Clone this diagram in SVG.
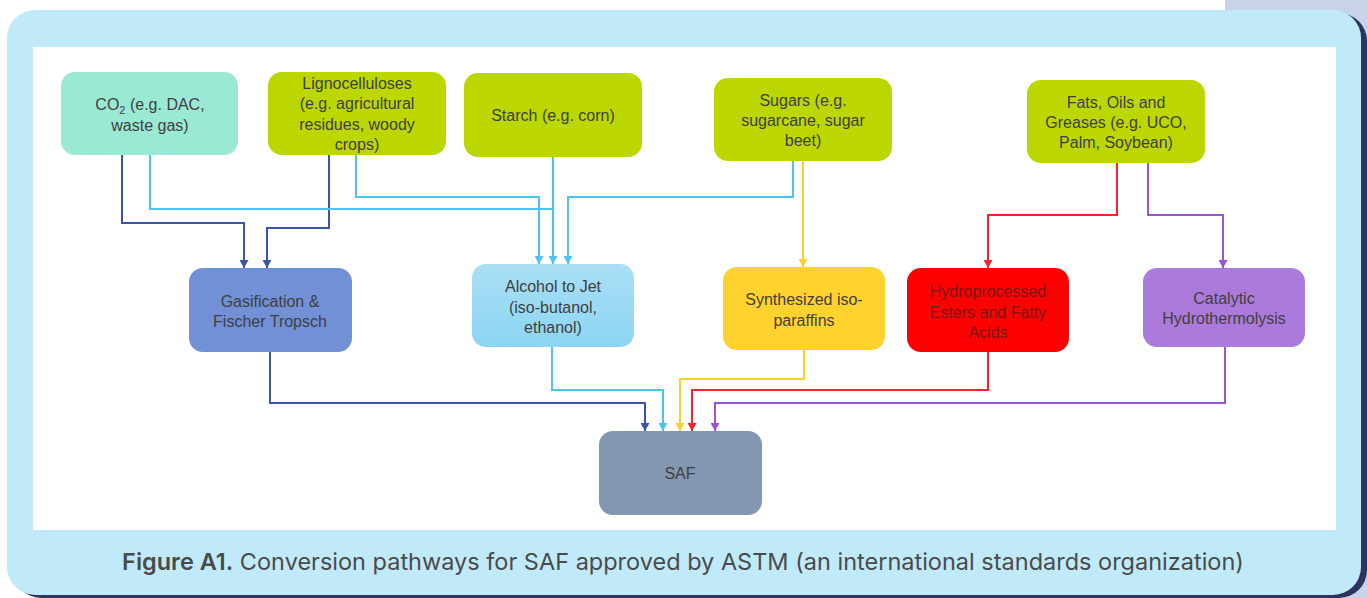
<svg xmlns="http://www.w3.org/2000/svg" width="1367" height="598" viewBox="0 0 1367 598">
<style>
.t{font-family:"Liberation Sans",Arial,sans-serif;font-size:16px;fill:#3f3f3f;text-anchor:middle}
.c{fill:none;stroke-width:2}
.db{stroke:#3a55a5}.lb{stroke:#4fc3ef}.ye{stroke:#fbcf2e}.re{stroke:#f8222a}.pu{stroke:#9a53d8}
.cap{font-family:Inter,"Liberation Sans",Arial,sans-serif;font-size:23.5px;fill:#4a4a4a;text-anchor:middle}
</style>
<defs>
<linearGradient id="gAlc" x1="0" y1="0" x2="0" y2="1"><stop offset="0" stop-color="#aadff5"/><stop offset="1" stop-color="#8cd5f2"/></linearGradient>
<marker id="aDb" markerUnits="userSpaceOnUse" markerWidth="9" markerHeight="9" refX="4.5" refY="8" orient="0" viewBox="0 0 9 9"><path d="M0,0 L9,0 L4.5,8 z" fill="#3a55a5"/></marker>
<marker id="aLb" markerUnits="userSpaceOnUse" markerWidth="9" markerHeight="9" refX="4.5" refY="8" orient="0" viewBox="0 0 9 9"><path d="M0,0 L9,0 L4.5,8 z" fill="#4fc3ef"/></marker>
<marker id="aYe" markerUnits="userSpaceOnUse" markerWidth="9" markerHeight="9" refX="4.5" refY="8" orient="0" viewBox="0 0 9 9"><path d="M0,0 L9,0 L4.5,8 z" fill="#fbcf2e"/></marker>
<marker id="aRe" markerUnits="userSpaceOnUse" markerWidth="9" markerHeight="9" refX="4.5" refY="8" orient="0" viewBox="0 0 9 9"><path d="M0,0 L9,0 L4.5,8 z" fill="#f8222a"/></marker>
<marker id="aPu" markerUnits="userSpaceOnUse" markerWidth="9" markerHeight="9" refX="4.5" refY="8" orient="0" viewBox="0 0 9 9"><path d="M0,0 L9,0 L4.5,8 z" fill="#9a53d8"/></marker>
</defs>
<rect x="0" y="0" width="1367" height="598" fill="#ffffff"/>
<rect x="1225" y="0" width="142" height="598" fill="#c7d3e8"/>
<rect x="13" y="13" width="1354" height="585" rx="28" fill="#2c3561"/>
<rect x="7" y="10" width="1354" height="585" rx="28" fill="#c0eaf9"/>
<rect x="33" y="47" width="1303" height="483" fill="#ffffff"/>

<g id="connectors">
<path class="c db" d="M122,155 V223 H244 V268" marker-end="url(#aDb)"/>
<path class="c db" d="M329,155 V228 H267 V268" marker-end="url(#aDb)"/>
<path class="c db" d="M270,352 V403 H645 V431" marker-end="url(#aDb)"/>
<path class="c lb" d="M150,155 V209 H553"/>
<path class="c lb" d="M356,155 V197 H539 V264" marker-end="url(#aLb)"/>
<path class="c lb" d="M553,157 V264" marker-end="url(#aLb)"/>
<path class="c lb" d="M793,161 V197 H568 V264" marker-end="url(#aLb)"/>
<path class="c lb" d="M552,347 V390 H663 V431" marker-end="url(#aLb)"/>
<path class="c ye" d="M803,161 V267" marker-end="url(#aYe)"/>
<path class="c ye" d="M804,350 V379 H680 V431" marker-end="url(#aYe)"/>
<path class="c re" d="M1117,163 V215 H988 V268" marker-end="url(#aRe)"/>
<path class="c re" d="M988,352 V390 H692 V431" marker-end="url(#aRe)"/>
<path class="c pu" d="M1148,163 V215 H1223 V268" marker-end="url(#aPu)"/>
<path class="c pu" d="M1225,347 V403 H715 V431" marker-end="url(#aPu)"/>
</g>

<g id="co2">
<rect x="61" y="72" width="177" height="83" rx="14" fill="#9ae9d5"/>
<text class="t" x="150" y="110">CO<tspan font-size="11" dy="4">2</tspan><tspan dy="-4"> (e.g. DAC,</tspan></text>
<text class="t" x="150" y="131">waste gas)</text>
</g>
<g id="ligno">
<rect x="268" y="72" width="178" height="83" rx="14" fill="#bcd600"/>
<text class="t" x="357" y="89">Lignocelluloses</text>
<text class="t" x="357" y="109">(e.g. agricultural</text>
<text class="t" x="357" y="130">residues, woody</text>
<text class="t" x="357" y="150">crops)</text>
</g>
<g id="starch">
<rect x="464" y="73" width="178" height="84" rx="14" fill="#bcd600"/>
<text class="t" x="553" y="121">Starch (e.g. corn)</text>
</g>
<g id="sugars">
<rect x="714" y="78" width="178" height="83" rx="14" fill="#bcd600"/>
<text class="t" x="803" y="106">Sugars (e.g.</text>
<text class="t" x="803" y="126">sugarcane, sugar</text>
<text class="t" x="803" y="146">beet)</text>
</g>
<g id="fats">
<rect x="1027" y="80" width="178" height="83" rx="14" fill="#bcd600"/>
<text class="t" x="1116" y="108">Fats, Oils and</text>
<text class="t" x="1116" y="128">Greases (e.g. UCO,</text>
<text class="t" x="1116" y="148">Palm, Soybean)</text>
</g>
<g id="gasification">
<rect x="189" y="268" width="163" height="84" rx="14" fill="#7190d6"/>
<text class="t" x="270" y="307">Gasification &amp;</text>
<text class="t" x="270" y="327">Fischer Tropsch</text>
</g>
<g id="alcohol">
<rect x="472" y="264" width="162" height="83" rx="14" fill="url(#gAlc)"/>
<text class="t" x="553" y="292">Alcohol to Jet</text>
<text class="t" x="553" y="313">(iso-butanol,</text>
<text class="t" x="553" y="333">ethanol)</text>
</g>
<g id="synthesized">
<rect x="723" y="267" width="162" height="83" rx="14" fill="#ffd22e"/>
<text class="t" x="804" y="305">Synthesized iso-</text>
<text class="t" x="804" y="326">paraffins</text>
</g>
<g id="hefa">
<rect x="907" y="268" width="162" height="84" rx="14" fill="#fe0000"/>
<text class="t" x="988" y="297" style="fill:#7a1616">Hydroprocessed</text>
<text class="t" x="988" y="318" style="fill:#7a1616">Esters and Fatty</text>
<text class="t" x="988" y="338" style="fill:#7a1616">Acids</text>
</g>
<g id="catalytic">
<rect x="1143" y="268" width="162" height="79" rx="14" fill="#ab7adb"/>
<text class="t" x="1224" y="304">Catalytic</text>
<text class="t" x="1224" y="324">Hydrothermolysis</text>
</g>
<g id="saf">
<rect x="599" y="431" width="163" height="84" rx="14" fill="#8497b0"/>
<text class="t" x="680" y="479">SAF</text>
</g>

<text class="cap" x="683" y="570"><tspan font-weight="600">Figure A1.</tspan> Conversion pathways for SAF approved by ASTM (an international standards organization)</text>
</svg>
